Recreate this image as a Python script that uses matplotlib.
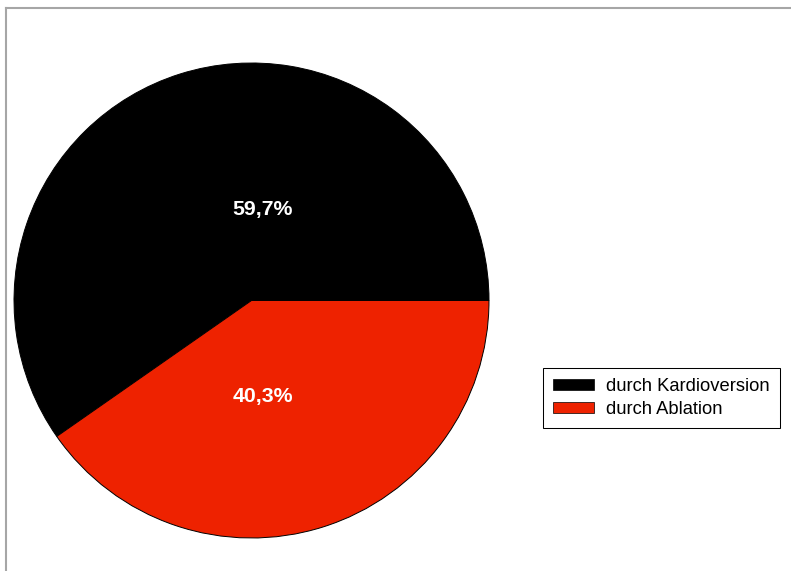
import matplotlib
matplotlib.use("Agg")
import matplotlib.pyplot as plt
from matplotlib.patches import Patch
from matplotlib.lines import Line2D

# share of conversions by method
methods = ["durch Kardioversion", "durch Ablation"]
shares = [59.7, 40.3]
colors = ["#000000", "#ee2200"]

plt.rcParams["font.family"] = ["Liberation Sans", "DejaVu Sans"]

W, H = 791, 571
fig = plt.figure(figsize=(W / 100, H / 100), dpi=100)

# grey frame on the top and left edge
fig.add_artist(Line2D([6 / W, 1], [1 - 8 / H, 1 - 8 / H], transform=fig.transFigure,
                      color="#a6a6a6", linewidth=1.5))
fig.add_artist(Line2D([6 / W, 6 / W], [0, 1 - 8 / H], transform=fig.transFigure,
                      color="#a6a6a6", linewidth=1.5))

# pie area: centre (251.5, 300.5) px, radius 237.5 px
cx, cy, r = 251.5, 300.5, 237.5
ax = fig.add_axes([(cx - r) / W, (H - cy - r) / H, 2 * r / W, 2 * r / H])

wedges, texts, autotexts = ax.pie(
    shares, colors=colors, startangle=0, counterclock=True, radius=1,
    autopct=lambda p: f"{p:.1f}%".replace(".", ","),
    wedgeprops=dict(edgecolor="black", linewidth=0.7),
    textprops=dict(color="white", fontsize=15.3, fontweight="bold"),
)
label_pos = [(0.046, 0.383), (0.046, -0.405)]
for t, pos in zip(autotexts, label_pos):
    t.set_position(pos)
    t.set_ha("center")
    t.set_va("center")
ax.set_xlim(-1, 1)
ax.set_ylim(-1, 1)
ax.axis("off")

handles = [Patch(facecolor=c, edgecolor="black", linewidth=0.5) for c in colors]
leg = fig.legend(handles, methods, loc="upper left",
                 bbox_to_anchor=(543 / W, 1 - 368 / H), borderaxespad=0,
                 fontsize=13.2, frameon=True, fancybox=False, shadow=False,
                 framealpha=1, edgecolor="black", handlelength=2.2,
                 handleheight=0.55, handletextpad=0.7, labelspacing=0.3,
                 borderpad=0.56)
leg.get_frame().set_linewidth(0.75)

fig.savefig("out.png", dpi=100)
